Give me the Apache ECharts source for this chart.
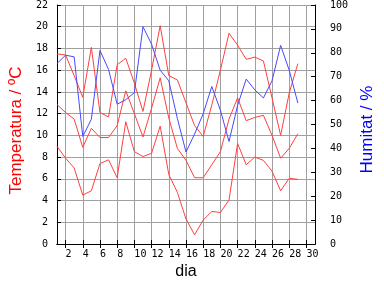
<!DOCTYPE html>
<html><head><meta charset="utf-8">
<script src="https://cdn.jsdelivr.net/npm/echarts@6/dist/echarts.min.js"></script>
<style>html,body{margin:0;padding:0;background:#fff}#c{width:384px;height:288px}</style>
</head><body><div id="c"></div>
<script>
const days = [1,2,3,4,5,6,7,8,9,10,11,12,13,14,15,16,17,18,19,20,21,22,23,24,25,26,27,28,29];
const tMax = [17.5,17.4,15.5,13.5,18.1,12.1,11.7,16.5,17.1,14.8,12.2,16.0,20.1,15.5,15.1,13.0,10.9,9.9,12.8,16.0,19.4,18.3,17.0,17.2,16.85,13.45,10.0,13.9,16.6];
const tMean = [12.85,12.1,11.5,8.9,10.65,9.8,9.8,10.9,14.1,12.0,9.85,12.5,15.3,11.6,8.8,7.7,6.1,6.1,7.3,8.5,11.5,13.45,11.35,11.65,11.85,10.0,7.9,8.8,10.15];
const tMin = [9.0,7.9,7.0,4.5,4.9,7.4,7.75,6.1,11.25,8.5,8.05,8.35,10.85,6.4,4.75,2.3,0.85,2.2,3.0,2.9,4.05,9.25,7.3,8.0,7.7,6.7,4.9,6.05,5.95];
const humidity = [75.5,79,78.3,45,52.2,81,73,58.5,60.4,63.3,90.9,83.6,72.7,68.3,52.5,38.5,46,54.5,65.9,56,42.9,58,69,64.5,61.1,68.3,83.1,72.7,59];
const dayTicks = [2,4,6,8,10,12,14,16,18,20,22,24,26,28,30];

const mono = 'DejaVu Sans Mono';
const sans = 'Liberation Sans';
const black = {lineStyle:{color:'#000',width:1}};
const pairs = arr => days.map((d,i)=>[d, arr[i]]);

const chart = echarts.init(document.getElementById('c'), null, {renderer:'canvas'});
chart.setOption({
  animation:false,
  backgroundColor:'#fff',
  grid:{left:49, right:50, top:0, bottom:44, containLabel:false},
  xAxis:[
    {type:'value', min:1, max:31, position:'bottom',
     axisLine:{show:true, ...black},
     axisTick:{show:true, inside:true, length:4, customValues:dayTicks, ...black},
     axisLabel:{customValues:dayTicks, fontFamily:mono, fontSize:10, color:'#000', margin:5, align:'left'},
     splitLine:{show:true, lineStyle:{color:'#a0a0a0', width:1}},
     name:'dia', nameLocation:'middle', nameGap:20,
     nameTextStyle:{fontFamily:sans, fontSize:16, color:'#000'}},
    {type:'value', min:1, max:31, position:'top',
     axisLine:{show:true, ...black},
     axisTick:{show:true, inside:true, length:4, customValues:dayTicks, ...black},
     axisLabel:{show:false}, splitLine:{show:false}}
  ],
  yAxis:[
    {type:'value', min:0, max:22, interval:2, position:'left',
     axisLine:{show:true, ...black},
     axisTick:{show:true, inside:true, length:4, ...black},
     axisLabel:{fontFamily:mono, fontSize:10, color:'#000', margin:9},
     splitLine:{show:true, lineStyle:{color:'#a0a0a0', width:1}},
     name:'Temperatura / ºC', nameLocation:'middle', nameGap:23,
     nameTextStyle:{fontFamily:sans, fontSize:17, color:'#ff0000', padding:[0,12,0,0]}},
    {type:'value', min:0, max:100, interval:10, position:'right',
     axisLine:{show:true, ...black},
     axisTick:{show:true, inside:true, length:4, ...black},
     axisLabel:{fontFamily:mono, fontSize:10, color:'#000', margin:15},
     splitLine:{show:false},
     name:'Humitat / %', nameLocation:'middle', nameGap:25,
     nameTextStyle:{fontFamily:sans, fontSize:17, color:'#0000ff', padding:[0,10,0,0]}}
  ],
  series:[
    {type:'line', name:'max', data:pairs(tMax), xAxisIndex:0, yAxisIndex:0, showSymbol:false, lineStyle:{color:'#ff4040', width:1}, itemStyle:{color:'#ff4040'}},
    {type:'line', name:'mitjana', data:pairs(tMean), xAxisIndex:0, yAxisIndex:0, showSymbol:false, lineStyle:{color:'#ff4040', width:1}, itemStyle:{color:'#ff4040'}},
    {type:'line', name:'min', data:pairs(tMin), xAxisIndex:0, yAxisIndex:0, showSymbol:false, lineStyle:{color:'#ff4040', width:1}, itemStyle:{color:'#ff4040'}},
    {type:'line', name:'humitat', data:pairs(humidity), xAxisIndex:0, yAxisIndex:1, showSymbol:false, lineStyle:{color:'#4848ff', width:1}, itemStyle:{color:'#4848ff'}}
  ]
});
</script></body></html>
